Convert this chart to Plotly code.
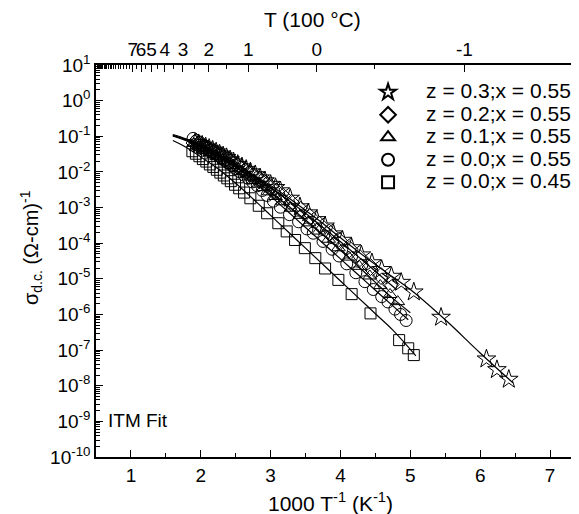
import numpy as np
import plotly.graph_objects as go

# ---------------- data ----------------
# x: 1000/T (K^-1); values stored as log10(sigma_dc) in (ohm-cm)^-1
star_x = [1.92, 1.97, 2.02, 2.07, 2.12, 2.17, 2.22, 2.27, 2.32, 2.37, 2.42, 2.47, 2.53, 2.59,
          2.65, 2.71, 2.78, 2.85, 2.92, 3.00, 3.07, 3.14, 3.28, 3.42, 3.54, 3.66, 3.78, 3.90,
          4.03, 4.16, 4.30, 4.45, 4.59, 4.73, 4.87, 5.05, 5.44, 6.09, 6.24, 6.41]
star_logy = [-1.18, -1.21, -1.25, -1.30, -1.34, -1.39, -1.44, -1.50, -1.55, -1.60, -1.66, -1.72,
             -1.79, -1.86, -1.93, -2.00, -2.08, -2.17, -2.25, -2.35, -2.44, -2.53, -2.74, -2.98,
             -3.15, -3.34, -3.52, -3.74, -3.92, -4.13, -4.33, -4.55, -4.74, -4.93, -5.10, -5.37,
             -6.08, -7.25, -7.55, -7.82]

diam_x = [1.91, 1.96, 2.01, 2.06, 2.11, 2.16, 2.21, 2.26, 2.31, 2.36, 2.41, 2.46, 2.52, 2.58,
          2.64, 2.70, 2.77, 2.84, 2.91, 2.99, 3.08, 3.18, 3.30, 3.43, 3.56, 3.70, 3.84, 3.98,
          4.13, 4.28, 4.43, 4.58, 4.72]
diam_logy = [-1.19, -1.23, -1.27, -1.32, -1.36, -1.41, -1.46, -1.52, -1.57, -1.63, -1.69, -1.75,
             -1.82, -1.89, -1.97, -2.04, -2.13, -2.22, -2.31, -2.42, -2.55, -2.69, -2.87, -3.06,
             -3.26, -3.48, -3.70, -3.93, -4.17, -4.42, -4.67, -4.92, -5.16]

tri_x = [1.90, 1.95, 2.00, 2.05, 2.10, 2.15, 2.20, 2.25, 2.30, 2.35, 2.40, 2.45, 2.51, 2.57,
         2.63, 2.69, 2.76, 2.83, 2.90, 2.98, 3.07, 3.17, 3.29, 3.42, 3.55, 3.69, 3.83, 3.97,
         4.12, 4.27, 4.42, 4.57, 4.71, 4.82]
tri_logy = [-1.20, -1.25, -1.30, -1.35, -1.40, -1.45, -1.51, -1.57, -1.63, -1.69, -1.75, -1.82,
            -1.90, -1.98, -2.06, -2.14, -2.24, -2.34, -2.44, -2.56, -2.69, -2.84, -3.02, -3.22,
            -3.43, -3.66, -3.89, -4.13, -4.39, -4.65, -4.92, -5.19, -5.44, -5.64]

circ_x = [1.89, 1.94, 1.99, 2.04, 2.09, 2.14, 2.19, 2.24, 2.29, 2.34, 2.39, 2.44, 2.50, 2.56,
          2.62, 2.68, 2.74, 2.81, 2.88, 2.95, 3.04, 3.14, 3.27, 3.40, 3.52, 3.61, 3.75, 3.88,
          3.98, 4.09, 4.22, 4.35, 4.47, 4.59, 4.68, 4.78, 4.86, 4.94]
circ_logy = [-1.06, -1.12, -1.18, -1.25, -1.32, -1.39, -1.46, -1.53, -1.60, -1.67, -1.75, -1.82,
             -1.91, -2.00, -2.09, -2.18, -2.28, -2.39, -2.52, -2.66, -2.82, -2.99, -3.20, -3.40,
             -3.60, -3.72, -3.95, -4.17, -4.36, -4.58, -4.83, -5.08, -5.30, -5.50, -5.65, -5.85,
             -6.00, -6.17]

sq_x = [1.88, 1.93, 1.98, 2.03, 2.08, 2.13, 2.18, 2.23, 2.28, 2.33, 2.38, 2.43, 2.49, 2.55,
        2.62, 2.71, 2.83, 2.95, 3.11, 3.23, 3.35, 3.49, 3.64, 3.78, 3.97, 4.16, 4.43, 4.84,
        4.97, 5.05]
sq_logy = [-1.42, -1.49, -1.56, -1.64, -1.71, -1.79, -1.86, -1.94, -2.02, -2.10, -2.18, -2.26,
           -2.36, -2.46, -2.58, -2.74, -2.95, -3.16, -3.44, -3.67, -3.91, -4.14, -4.42, -4.71,
           -5.03, -5.43, -5.97, -6.72, -6.95, -7.14]

# ITM fit curves
fit_star_x = [1.6, 1.8, 2.0, 2.25, 2.5, 2.75, 3.0, 3.25, 3.5, 3.75, 4.0, 4.25, 4.5, 4.75, 5.0,
              5.5, 6.0, 6.47]
fit_star_logy = [-0.95, -1.08, -1.25, -1.50, -1.78, -2.08, -2.38, -2.72, -3.08, -3.45, -3.85,
                 -4.23, -4.60, -4.95, -5.30, -6.15, -7.08, -7.92]
fit_diam_x = [1.6, 1.8, 2.0, 2.25, 2.5, 2.75, 3.0, 3.25, 3.5, 3.75, 4.0, 4.25, 4.5, 4.8]
fit_diam_logy = [-0.97, -1.10, -1.26, -1.51, -1.80, -2.10, -2.43, -2.79, -3.16, -3.56, -3.96,
                 -4.37, -4.79, -5.30]
fit_tri_x = [1.6, 1.8, 2.0, 2.25, 2.5, 2.75, 3.0, 3.25, 3.5, 3.75, 4.0, 4.25, 4.5, 4.75, 5.0]
fit_tri_logy = [-0.99, -1.13, -1.30, -1.56, -1.87, -2.20, -2.57, -2.95, -3.35, -3.77, -4.20,
                -4.64, -5.10, -5.55, -5.95]
fit_circ_x = [1.6, 1.8, 2.0, 2.25, 2.5, 2.75, 3.0, 3.25, 3.5, 3.75, 4.0, 4.25, 4.5, 4.75, 4.97]
fit_circ_logy = [-0.98, -1.10, -1.24, -1.50, -1.85, -2.25, -2.68, -3.12, -3.56, -4.00, -4.44,
                 -4.88, -5.32, -5.76, -6.15]
fit_sq_x = [1.6, 1.8, 2.0, 2.25, 2.5, 2.75, 3.0, 3.25, 3.5, 3.75, 4.0, 4.25, 4.5, 4.75, 5.08]
fit_sq_logy = [-1.12, -1.32, -1.58, -1.92, -2.32, -2.76, -3.22, -3.68, -4.14, -4.60, -5.06,
               -5.52, -5.98, -6.44, -7.16]

series_names = ["z = 0.3;x = 0.55", "z = 0.2;x = 0.55", "z = 0.1;x = 0.55",
                "z = 0.0;x = 0.55", "z = 0.0;x = 0.45"]

# y-axis decades and top-axis temperatures (in 100 degC)
y_decades = list(range(-10, 2))
top_labels_T = [7, 6, 5, 4, 3, 2, 1, 0, -1]

# ---------------- figure ----------------
FONT = "Liberation Sans, Arial, Helvetica, sans-serif"
fig = go.Figure()

fits = [(fit_star_x, fit_star_logy), (fit_diam_x, fit_diam_logy), (fit_tri_x, fit_tri_logy),
        (fit_circ_x, fit_circ_logy), (fit_sq_x, fit_sq_logy)]
for fx, fy in fits:
    fig.add_trace(go.Scatter(x=fx, y=np.power(10.0, fy), mode="lines", line=dict(color="black", width=1.2),
                             line_shape="spline", showlegend=False, hoverinfo="skip"))

data = [(star_x, star_logy, "star-open", 14), (diam_x, diam_logy, "diamond-open", 13),
        (tri_x, tri_logy, "triangle-up-open", 12), (circ_x, circ_logy, "circle-open", 12),
        (sq_x, sq_logy, "square-open", 11)]
for (dx, dy, sym, size), name in zip(data, series_names):
    fig.add_trace(go.Scatter(x=dx, y=np.power(10.0, dy), mode="markers",
                             name='<span style="font-size:21px">' + name + '</span>',
                             marker=dict(symbol=sym, size=size, color="black",
                                         line=dict(color="black", width=1))))

# dummy trace to activate top axis
fig.add_trace(go.Scatter(x=[None], y=[None], xaxis="x2", showlegend=False, hoverinfo="skip"))

XR = [0.5, 7.415]

def t_to_x(t):
    return 1000.0 / (100.0 * t + 273.15)

top_major_x = [t_to_x(t) for t in top_labels_T]
top_major_text = [str(t) for t in top_labels_T]
top_minor_x = [t_to_x(t / 2.0) for t in range(-3, 36) if (t % 2 != 0 or t / 2.0 > 7)]

ytickvals = [10.0 ** d for d in y_decades]
yticktext = ["10<sup>%d</sup>" % d for d in y_decades]
yminor = [m * 10.0 ** d for d in y_decades[:-1] for m in range(2, 10)]

# the page body adds an 8 px offset; plot area lands at x 96..579, y 65..457 of the window
fig.update_layout(
    width=571, height=506,
    margin=dict(l=88, r=0, t=57, b=57, autoexpand=False),
    paper_bgcolor="white", plot_bgcolor="white",
    font=dict(family=FONT, size=19, color="black"),
    showlegend=True,
    legend=dict(x=0.526, y=0.972, xanchor="left", yanchor="top", bgcolor="rgba(0,0,0,0)",
                font=dict(family=FONT, size=15), itemsizing="constant", itemwidth=66,
                tracegroupgap=0),
    xaxis=dict(range=XR, showline=True, linecolor="black", linewidth=1.5, mirror=False,
               automargin=False,
               ticks="inside", ticklen=7, tickcolor="black", tickwidth=1.2,
               tickvals=[1, 2, 3, 4, 5, 6, 7], showgrid=False, zeroline=False, tickangle=0,
               minor=dict(tickvals=[0.5, 1.5, 2.5, 3.5, 4.5, 5.5, 6.5], ticks="inside",
                          ticklen=4, tickcolor="black", tickwidth=1.2, showgrid=False),
               tickfont=dict(size=19)),
    xaxis2=dict(range=XR, overlaying="x", side="top", anchor="y", showline=True,
                automargin=False,
                linecolor="black", linewidth=1.5, ticks="inside", ticklen=7, tickcolor="black",
                tickwidth=1.2, tickmode="array", tickvals=top_major_x, ticktext=top_major_text,
                showgrid=False, zeroline=False, tickangle=0,
                minor=dict(tickvals=top_minor_x, ticks="inside", ticklen=4, tickcolor="black",
                           tickwidth=1.2, showgrid=False),
                tickfont=dict(size=19)),
    yaxis=dict(type="log", range=[-10, 1], showline=True, linecolor="black", linewidth=1.5,
               automargin=False,
               mirror="ticks", ticks="inside", ticklen=7, tickcolor="black", tickwidth=1.2,
               tickvals=ytickvals, ticktext=yticktext, showgrid=False, zeroline=False,
               minor=dict(tickvals=yminor, ticks="inside", ticklen=4, tickcolor="black",
                          tickwidth=1, showgrid=False),
               tickfont=dict(size=19)),
)

fig.add_annotation(text="σ<sub>d.c.</sub> (Ω-cm)<sup>-1</sup>", xref="paper", yref="paper",
                   x=-0.135, y=0.535, textangle=-90, showarrow=False,
                   font=dict(family=FONT, size=20), xanchor="center", yanchor="middle")
fig.add_annotation(text="1000 T<sup>-1</sup> (K<sup>-1</sup>)", xref="paper", yref="paper",
                   x=(330 - 96) / 483, y=-0.115, showarrow=False,
                   font=dict(family=FONT, size=21), xanchor="center", yanchor="middle")
fig.add_annotation(text="T (100 °C)", xref="paper", yref="paper",
                   x=(312 - 96) / 483, y=1.115, showarrow=False,
                   font=dict(family=FONT, size=21), xanchor="center", yanchor="middle")
fig.add_annotation(text="ITM Fit", xref="paper", yref="paper",
                   x=(106 - 96) / 483, y=(457 - 420) / 392, showarrow=False,
                   font=dict(family=FONT, size=19), xanchor="left", yanchor="middle")

fig.write_html("out.html")
